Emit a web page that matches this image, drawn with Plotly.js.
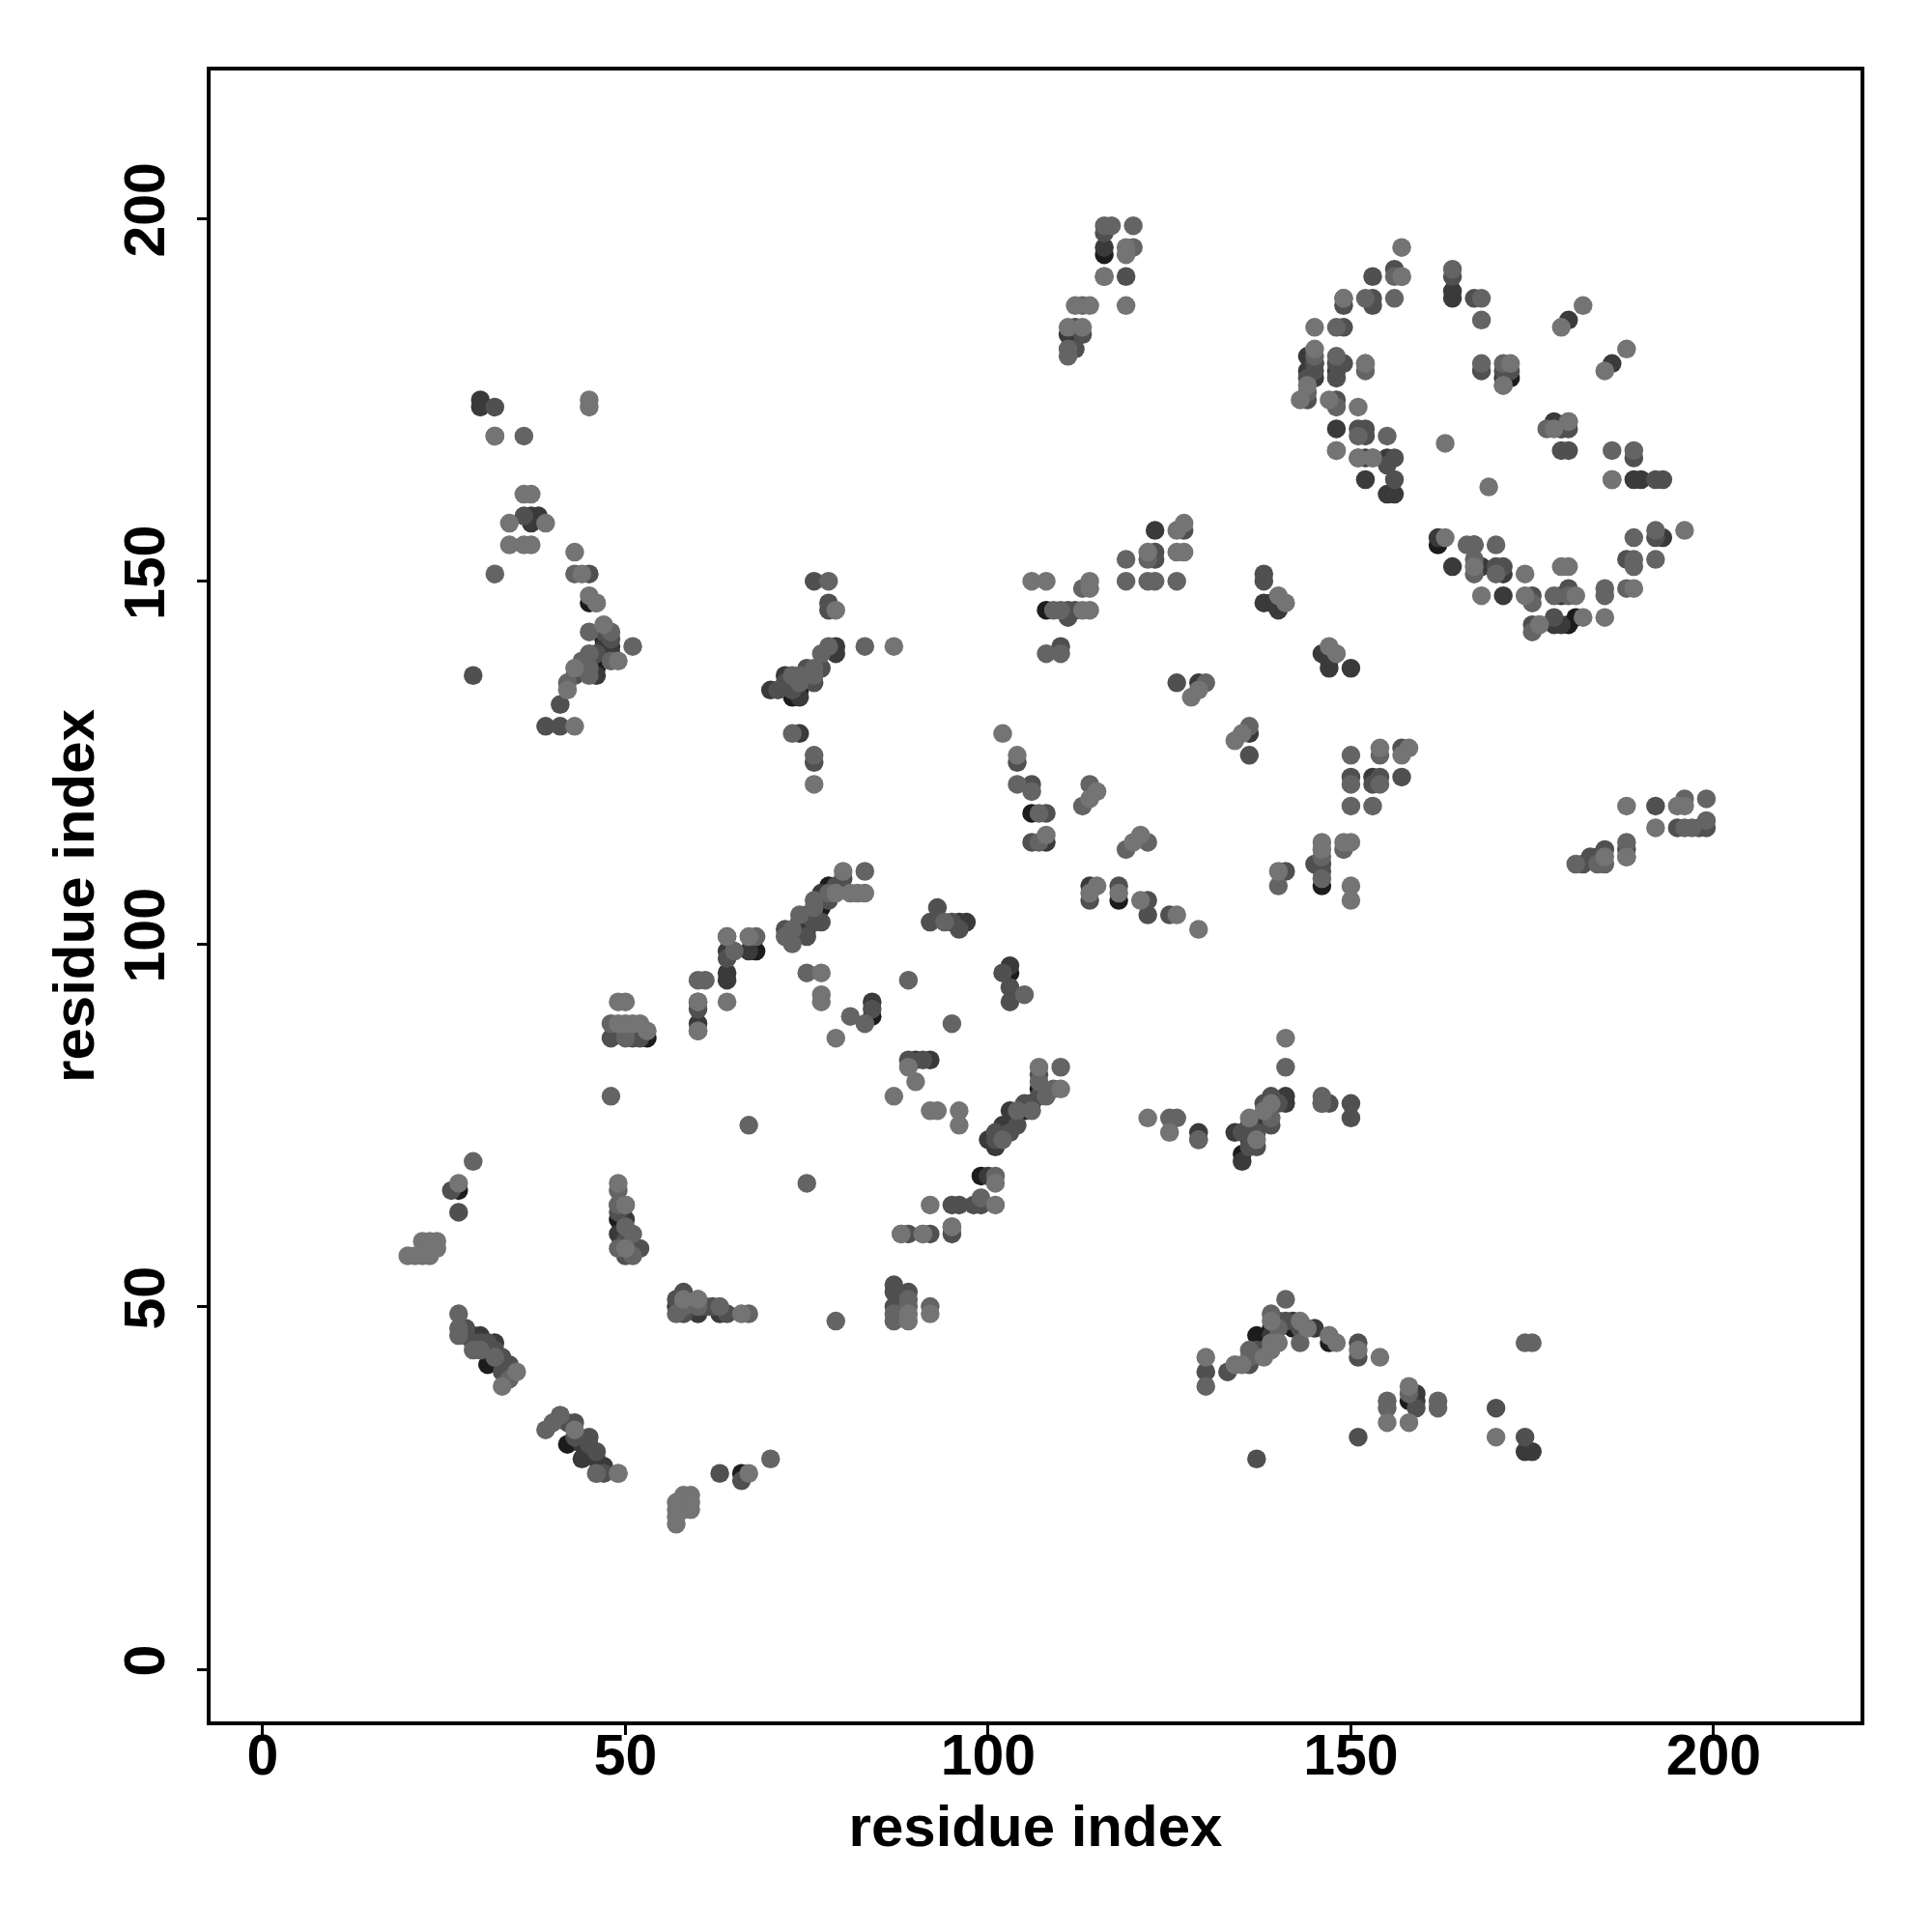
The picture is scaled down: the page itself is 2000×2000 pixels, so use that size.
<!DOCTYPE html>
<html><head><meta charset="utf-8">
<script src="https://cdn.plot.ly/plotly-3.0.1.min.js"></script>
<style>html,body{margin:0;padding:0;background:#fff}</style></head>
<body><div id="chart" style="width:2000px;height:2000px"></div>
<script>
const blackPts=[[108,146],[106,118],[118,106],[140,147],[147,140],[146,108],[145,180],[172,178],[162,155],[180,144],[181,145],[68,99],[84,90],[103,96],[75,102],[74,103],[78,108],[77,105],[99,68],[105,77],[103,75],[102,74],[107,80],[31,42],[42,31],[45,30],[139,47],[142,47],[147,45],[137,46],[136,73],[135,71],[158,37],[116,195],[112,184],[73,134],[74,135],[75,137],[47,142],[46,138],[45,147],[48,140],[53,87],[49,62],[51,58],[27,66],[66,27]];
const charcoalPts=[[123,157],[138,147],[139,147],[140,146],[146,140],[147,139],[147,138],[150,138],[129,136],[136,129],[108,114],[114,108],[153,123],[144,181],[144,179],[145,178],[148,179],[171,178],[148,171],[152,167],[155,167],[152,164],[155,162],[156,162],[164,190],[164,189],[180,186],[186,180],[178,172],[179,171],[190,164],[189,164],[164,152],[168,152],[171,148],[171,151],[179,148],[162,156],[167,155],[193,156],[178,144],[179,144],[30,175],[30,174],[37,159],[38,159],[37,158],[48,141],[47,141],[46,137],[74,129],[79,141],[79,140],[70,135],[72,137],[74,134],[77,107],[76,104],[74,102],[67,99],[64,99],[96,103],[97,103],[103,97],[92,84],[90,84],[106,78],[103,77],[102,75],[101,72],[100,68],[100,73],[60,89],[60,92],[64,96],[64,95],[84,92],[29,46],[30,46],[32,45],[31,44],[41,35],[44,31],[46,29],[47,28],[44,29],[50,64],[50,62],[49,60],[57,50],[60,49],[63,49],[134,74],[135,70],[136,75],[129,74],[138,76],[141,78],[141,79],[139,46],[140,48],[142,48],[159,38],[159,37],[174,30],[175,30],[145,47],[111,184],[116,196]];
const darkPts=[[87,52],[50,57],[111,145],[111,146],[112,146],[110,141],[127,157],[123,154],[123,153],[138,151],[138,150],[126,136],[136,126],[104,125],[106,122],[108,118],[106,114],[114,106],[118,108],[122,106],[122,104],[125,104],[157,127],[150,123],[154,123],[153,122],[157,123],[145,111],[146,111],[146,110],[141,110],[153,192],[156,193],[149,188],[153,188],[153,189],[149,185],[145,180],[145,179],[144,178],[148,180],[148,178],[149,180],[148,175],[144,175],[152,171],[152,170],[151,171],[155,166],[156,167],[156,164],[168,179],[171,179],[172,179],[179,171],[180,171],[179,168],[180,168],[189,167],[164,192],[167,189],[192,164],[193,164],[170,152],[171,152],[178,145],[175,144],[188,153],[192,156],[180,149],[175,148],[36,159],[39,130],[41,130],[32,174],[45,151],[46,147],[48,142],[47,143],[45,139],[46,140],[44,138],[43,137],[41,133],[29,137],[76,150],[78,146],[78,147],[77,138],[75,138],[76,136],[72,136],[73,135],[71,135],[76,125],[80,109],[79,108],[78,106],[77,103],[76,103],[75,104],[75,101],[73,101],[72,102],[64,98],[95,103],[93,105],[92,103],[60,91],[84,91],[96,102],[102,96],[103,94],[103,92],[89,84],[91,84],[107,82],[107,79],[105,78],[104,75],[103,74],[101,73],[98,64],[95,64],[96,64],[95,60],[89,60],[92,60],[99,64],[101,74],[48,87],[51,87],[52,87],[49,64],[49,63],[50,59],[52,58],[57,51],[58,52],[58,49],[61,50],[62,50],[64,49],[27,63],[26,66],[28,47],[28,46],[30,45],[29,45],[31,45],[32,44],[33,43],[34,42],[33,41],[43,34],[43,32],[45,32],[45,31],[46,30],[47,27],[46,27],[42,34],[63,27],[66,26],[87,53],[87,50],[89,52],[150,76],[150,78],[146,78],[147,78],[136,74],[137,74],[135,74],[139,75],[140,78],[139,79],[136,72],[137,72],[129,73],[138,78],[137,44],[136,42],[141,48],[143,47],[138,44],[133,41],[130,41],[147,46],[151,45],[151,43],[159,36],[170,36],[174,32],[151,32],[137,29],[112,185],[113,184],[112,182],[116,198],[119,192],[182,111],[183,112],[184,112],[185,113],[192,119],[195,116],[198,116],[199,116],[188,113]];
const midPts=[[51,57],[113,149],[109,146],[110,146],[108,140],[110,140],[119,153],[122,153],[119,150],[122,150],[123,150],[126,150],[130,136],[136,130],[106,121],[104,122],[107,118],[107,114],[114,122],[113,119],[119,113],[122,114],[150,126],[154,126],[150,122],[154,122],[150,119],[153,119],[146,112],[146,109],[149,113],[140,108],[157,192],[156,192],[152,189],[149,189],[156,189],[148,185],[145,181],[144,176],[148,181],[148,174],[152,180],[152,179],[151,170],[155,170],[151,167],[153,167],[148,168],[168,180],[171,180],[171,177],[177,171],[180,172],[167,155],[164,193],[168,189],[168,186],[186,168],[189,168],[186,164],[170,155],[166,155],[167,153],[167,151],[170,151],[175,147],[178,148],[180,148],[185,149],[185,148],[188,149],[189,153],[189,152],[192,153],[189,156],[192,157],[176,144],[175,143],[32,170],[36,170],[32,151],[43,151],[45,143],[48,143],[48,139],[45,140],[44,139],[45,138],[45,137],[42,136],[51,141],[78,150],[83,141],[73,129],[76,126],[78,141],[77,140],[76,138],[76,137],[74,137],[73,137],[74,136],[83,110],[78,107],[76,106],[76,105],[74,104],[73,102],[72,101],[73,100],[68,101],[65,99],[64,101],[60,95],[61,95],[60,88],[75,96],[81,90],[89,95],[95,89],[83,89],[94,103],[105,93],[110,83],[107,81],[108,79],[109,80],[104,77],[106,77],[102,73],[99,65],[101,68],[95,61],[88,60],[91,60],[49,64],[49,66],[50,61],[51,60],[49,58],[48,79],[67,75],[75,67],[48,89],[50,87],[50,88],[27,49],[27,47],[27,46],[29,70],[30,44],[29,44],[32,43],[34,40],[39,33],[40,34],[41,35],[46,27],[49,27],[70,29],[67,49],[63,50],[60,50],[60,51],[57,49],[58,50],[79,48],[87,48],[87,49],[89,51],[89,50],[92,50],[141,51],[141,83],[125,76],[126,76],[129,73],[146,79],[146,78],[139,76],[139,49],[140,47],[143,45],[136,44],[136,43],[130,39],[155,37],[155,36],[162,37],[162,36],[158,38],[174,45],[175,45],[111,182],[111,181],[117,199],[116,199],[120,199],[120,196],[116,192],[113,188],[188,112],[185,111],[184,111],[181,111],[188,114],[199,120],[196,120],[199,117],[196,116],[197,116]];
const lightPts=[[106,150],[108,150],[114,150],[114,149],[113,146],[114,146],[126,157],[127,158],[122,154],[126,154],[127,154],[140,148],[141,147],[147,141],[148,140],[129,135],[128,134],[135,129],[134,128],[102,129],[104,126],[108,115],[115,121],[114,120],[120,114],[121,115],[115,108],[114,107],[118,107],[121,106],[126,104],[129,102],[154,127],[158,127],[157,126],[146,114],[146,113],[149,114],[150,114],[140,110],[150,108],[150,106],[157,196],[157,192],[149,189],[145,185],[145,182],[152,180],[147,175],[144,177],[143,175],[151,174],[148,168],[153,167],[151,167],[163,169],[169,163],[172,180],[171,177],[178,171],[180,172],[174,151],[174,148],[168,148],[182,188],[179,185],[188,182],[185,179],[189,149],[185,145],[196,157],[182,145],[176,144],[179,152],[180,152],[186,164],[163,156],[167,152],[181,148],[45,175],[45,174],[32,170],[39,158],[36,162],[37,162],[34,158],[34,155],[36,155],[37,155],[43,154],[44,151],[45,148],[46,147],[47,144],[49,139],[43,130],[42,135],[43,138],[87,141],[79,146],[76,122],[77,93],[77,92],[77,96],[79,87],[80,110],[81,107],[82,107],[83,107],[79,107],[64,92],[64,101],[67,101],[60,92],[60,88],[49,92],[50,92],[49,89],[50,89],[52,89],[51,89],[53,88],[107,83],[110,80],[92,77],[93,77],[96,77],[96,75],[87,79],[89,83],[90,81],[92,64],[101,64],[101,67],[88,60],[91,60],[95,61],[49,67],[50,64],[50,58],[22,59],[23,59],[24,59],[24,58],[23,58],[20,57],[21,57],[22,57],[23,57],[27,67],[33,39],[35,41],[49,27],[43,33],[58,24],[59,24],[59,23],[59,22],[58,22],[57,23],[57,22],[57,21],[57,20],[67,27],[66,49],[60,51],[58,51],[89,49],[89,48],[92,49],[122,76],[125,74],[138,77],[139,78],[136,76],[137,73],[141,87],[139,48],[144,47],[143,48],[148,45],[147,46],[130,43],[134,42],[135,42],[138,43],[139,45],[139,44],[140,45],[154,43],[151,44],[158,39],[155,34],[158,34],[170,32],[188,119],[195,119],[196,119],[192,116],[185,112],[188,112],[119,196],[119,195],[119,188],[116,192],[114,188],[112,188],[111,185],[113,185]];

const shadeLayers=[
  {pts:blackPts,color:'#1c1c1c'},
  {pts:charcoalPts,color:'#3a3a3a'},
  {pts:darkPts,color:'#505050'},
  {pts:midPts,color:'#646464'},
  {pts:lightPts,color:'#747474'}
];
const tickVals=[0,50,100,150,200];
const axisName='residue index';
const tickFont={family:'Liberation Sans, Arial, sans-serif',size:59,color:'#000'};
const titleFont={family:'Liberation Sans, Arial, sans-serif',size:60,color:'#000'};
const traces=shadeLayers.map(s=>({
  type:'scatter',mode:'markers',
  x:s.pts.map(p=>p[0]),y:s.pts.map(p=>p[1]),
  marker:{color:s.color,size:19.5,line:{width:0}},
  hoverinfo:'x+y',showlegend:false
}));
const axis={showline:true,linecolor:'#000',linewidth:4,mirror:true,ticks:'outside',ticklen:10,tickwidth:3,tickcolor:'#000',
  tickmode:'array',tickvals:tickVals,ticktext:tickVals.map(v=>'<b>'+v+'</b>'),tickfont:tickFont,showgrid:false,zeroline:false};
const layout={
  width:2000,height:2000,paper_bgcolor:'#fff',plot_bgcolor:'#fff',showlegend:false,
  margin:{l:218,r:74,t:73,b:218},
  xaxis:Object.assign({},axis,{range:[-7.19,220.25],ticklabelstandoff:-30,title:{text:'<b>'+axisName+'</b>',font:titleFont,standoff:21}}),
  yaxis:Object.assign({},axis,{range:[-7.19,220.4],tickangle:-90,ticklabelstandoff:10,title:{text:'<b>'+axisName+'</b>',font:titleFont,standoff:1}})
};
Plotly.newPlot('chart',traces,layout,{displayModeBar:false,staticPlot:true});
</script></body></html>
